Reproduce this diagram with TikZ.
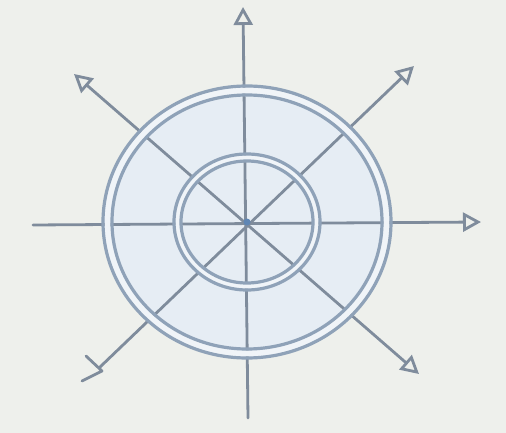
\documentclass[tikz,border=0pt]{standalone}
\usetikzlibrary{arrows.meta}
\definecolor{bg}{HTML}{EEF0EC}
\definecolor{ink}{HTML}{7F8C9C}
\definecolor{ringc}{HTML}{8FA2B8}
\definecolor{disc}{HTML}{E6EDF4}
\definecolor{band}{HTML}{F0F4F8}
\definecolor{hub}{HTML}{5F86B4}
\begin{document}
\begin{tikzpicture}[x=1pt,y=-1pt,
  spoke/.style={draw=ink, line width=2.8pt, line cap=round},
  tip/.tip={Triangle[open, length=18pt, width=19pt, line width=2.8pt]},
  ring/.style={draw=ringc, line width=3.2pt}]
\fill[bg] (0,0) rectangle (506,433);
\useasboundingbox (0,0) rectangle (506,433);
\coordinate (c) at (247,222);
\coordinate (n) at (243,7);
\coordinate (s) at (248,418);
\coordinate (w) at (33,225);
\coordinate (e) at (481,222);
\coordinate (nw) at (74,74);
\coordinate (se) at (419,374);
\coordinate (ne) at (414,66);
\coordinate (sw) at (99,368);
\coordinate (swa) at (86,356);
\coordinate (swb) at (102,371);
\coordinate (swc) at (82,381);
% fills
\fill[disc] (c) ellipse [x radius=144, y radius=136];
% spokes
\draw[spoke, -tip] (s) -- (n);
\draw[spoke, -tip] (w) -- (e);
\draw[spoke, tip-tip] (nw) -- (se);
\draw[spoke, -tip] (sw) -- (ne);
\draw[spoke, line join=round] (swa) -- (swb) -- (swc);
% ring bands
\draw[band, line width=6pt] (c) ellipse [x radius=139.5, y radius=131.5];
\draw[band, line width=4.5pt] (c) ellipse [x radius=69.5, y radius=64.5];
% rings
\draw[ring] (c) ellipse [x radius=144, y radius=136];
\draw[ring] (c) ellipse [x radius=135, y radius=127];
\draw[ring] (c) ellipse [x radius=73, y radius=68];
\draw[ring] (c) ellipse [x radius=66, y radius=61];
\fill[hub] (c) circle (3.5);
\end{tikzpicture}
\end{document}
